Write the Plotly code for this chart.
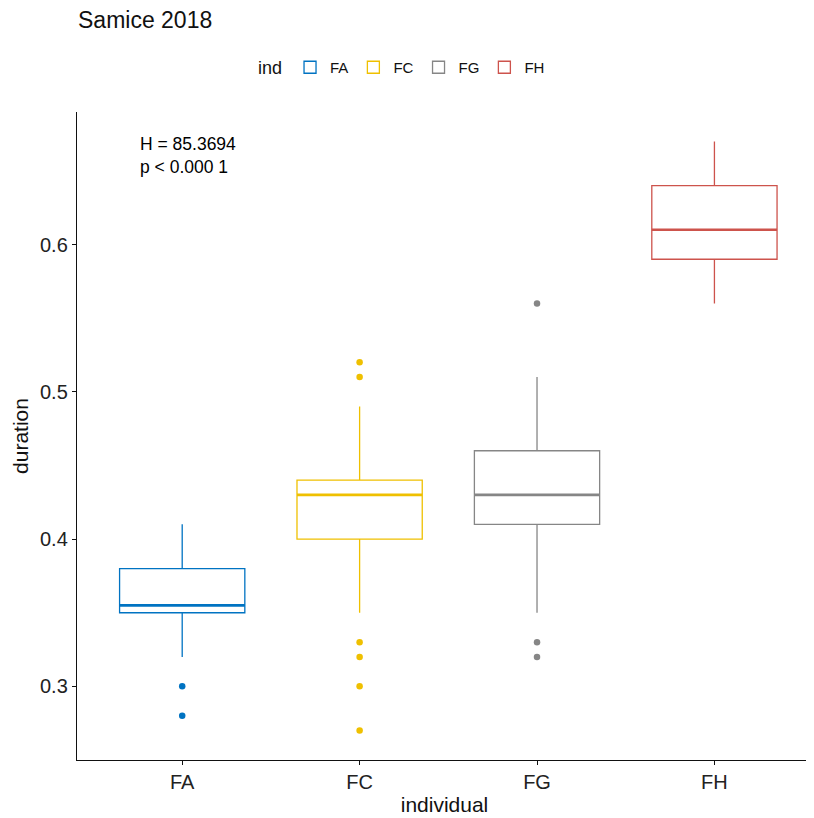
import plotly.graph_objects as go

categories = ["FA", "FC", "FG", "FH"]
colors = ["#0073C2", "#EFC000", "#868686", "#CD534C"]
q1 = [0.35, 0.40, 0.41, 0.59]
median = [0.355, 0.43, 0.43, 0.61]
q3 = [0.38, 0.44, 0.46, 0.64]
lower_whisker = [0.32, 0.35, 0.35, 0.56]
upper_whisker = [0.41, 0.49, 0.51, 0.67]
outliers = [
    [0.30, 0.28],
    [0.52, 0.51, 0.33, 0.32, 0.30, 0.27],
    [0.56, 0.33, 0.32],
    [],
]
stat_text = "H = 85.3694<br>p < 0.000 1"
y_ticks = [0.3, 0.4, 0.5, 0.6]

FONT = "Liberation Sans, Arial, sans-serif"
BOX_W = 0.706
W, H = 806, 810
L, R, T, B = 69, 2, 104, 58

fig = go.Figure()
for i, cat in enumerate(categories):
    fig.add_trace(go.Box(
        x=[i], q1=[q1[i]], median=[median[i]], q3=[q3[i]],
        lowerfence=[lower_whisker[i]], upperfence=[upper_whisker[i]],
        name=cat, legendgroup=cat, width=BOX_W, whiskerwidth=0,
        line=dict(color=colors[i], width=1.3), fillcolor="rgba(255,255,255,0)",
        boxpoints=False, hoverinfo="y",
    ))
for i, cat in enumerate(categories):
    fig.add_trace(go.Scatter(
        x=[i - BOX_W / 2, i + BOX_W / 2], y=[median[i], median[i]],
        mode="lines", line=dict(color=colors[i], width=2.6),
        showlegend=False, legendgroup=cat, hoverinfo="skip",
    ))
    if outliers[i]:
        fig.add_trace(go.Scatter(
            x=[i] * len(outliers[i]), y=outliers[i], mode="markers",
            marker=dict(color=colors[i], size=6.5),
            showlegend=False, legendgroup=cat,
        ))

fig.add_annotation(
    x=-0.25, y=0.6765, xref="x", yref="y", text=stat_text, showarrow=False,
    xanchor="left", yanchor="top", align="left",
    font=dict(size=17.5, color="black", family=FONT),
)

axis_common = dict(
    showgrid=False, zeroline=False, showline=True, linecolor="#111", linewidth=1.4,
    ticks="outside", ticklen=4, tickwidth=1.3, tickcolor="#111",
    tickfont=dict(size=20, color="#222", family=FONT),
)
pw = W - L - R
ph = H - T - B
fig.update_layout(
    width=W, height=H,
    margin=dict(l=L, r=R, t=T, b=B),
    paper_bgcolor="white", plot_bgcolor="white",
    font=dict(family=FONT, color="black"),
    title=dict(text="Samice 2018", x=70 / W, xref="container", xanchor="left",
               y=1 - 12 / H, yref="container", yanchor="middle",
               font=dict(size=23, color="#111", family=FONT)),
    xaxis=dict(range=[-0.593, 3.55], tickvals=list(range(len(categories))), ticktext=categories,
               title=dict(text="individual", font=dict(size=21, color="#111"), standoff=5), **axis_common),
    yaxis=dict(range=[0.25, 0.69], tickvals=y_ticks, ticktext=[f"{v:.1f}" for v in y_ticks],
               title=dict(text="duration", font=dict(size=21, color="#111"), standoff=5), **axis_common),
    legend=dict(orientation="h", x=(248 - L) / pw, xanchor="left", y=1 + (T - 60) / ph, yanchor="middle",
                title=dict(text="ind", font=dict(size=18, color="#111")), font=dict(size=15, color="#111"),
                itemwidth=30, bgcolor="rgba(0,0,0,0)"),
    showlegend=True,
)
fig.write_html("out.html")
